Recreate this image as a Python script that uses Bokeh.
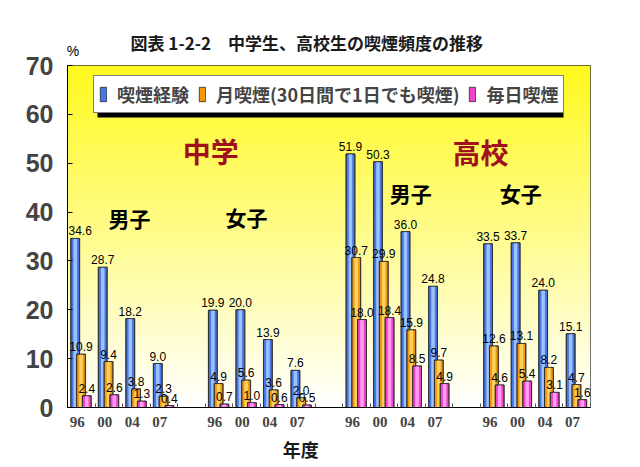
import numpy as np
from bokeh.plotting import figure
from bokeh.models import (Range1d, FixedTicker, Legend, LegendItem, Label, LinearAxis,
                          BoxAnnotation, ColumnDataSource, LabelSet)
from bokeh.core.properties import value
from bokeh.embed import file_html
from bokeh.resources import INLINE

# ---------------- data ----------------
title_text = "図表 1-2-2　中学生、高校生の喫煙頻度の推移"
unit_text = "%"
x_title = "年度"
years = ["96", "00", "04", "07"]
y_ticks = [0, 10, 20, 30, 40, 50, 60, 70]
series_names = ["喫煙経験", "月喫煙(30日間で1日でも喫煙)", "毎日喫煙"]

jh_boys_exp = [34.6, 28.7, 18.2, 9.0]
jh_boys_month = [10.9, 9.4, 3.8, 2.3]
jh_boys_daily = [2.4, 2.6, 1.3, 0.4]

jh_girls_exp = [19.9, 20.0, 13.9, 7.6]
jh_girls_month = [4.9, 5.6, 3.6, 2.0]
jh_girls_daily = [0.7, 1.0, 0.6, 0.5]

hs_boys_exp = [51.9, 50.3, 36.0, 24.8]
hs_boys_month = [30.7, 29.9, 15.9, 9.7]
hs_boys_daily = [18.0, 18.4, 8.5, 4.9]

hs_girls_exp = [33.5, 33.7, 24.0, 15.1]
hs_girls_month = [12.6, 13.1, 8.2, 4.7]
hs_girls_daily = [4.6, 5.4, 3.1, 1.6]

experience = jh_boys_exp + jh_girls_exp + hs_boys_exp + hs_girls_exp
monthly = jh_boys_month + jh_girls_month + hs_boys_month + hs_girls_month
daily = jh_boys_daily + jh_girls_daily + hs_boys_daily + hs_girls_daily

# ---------------- layout helpers ----------------
n_groups = 4
slots = [g * 5 + i for g in range(n_groups) for i in range(len(years))]
bounds = [b - 0.5 for b in range(0, 20)]
label_ticks = [s - 0.15 for s in slots]
overrides = {t: years[k % 4] for k, t in enumerate(label_ticks)}

CJK = "Noto Sans CJK JP"
SANS = "Liberation Sans"

p = figure(width=640, height=467, x_range=Range1d(-0.5, 18.5), y_range=Range1d(0, 70),
           output_backend="svg", toolbar_location=None,
           min_border_left=67, min_border_right=50, min_border_top=65, min_border_bottom=60)
p.background_fill_color = "white"
p.border_fill_color = "white"
p.outline_line_color = "#404040"
p.outline_line_width = 1
p.xgrid.visible = False
p.ygrid.visible = False

# gradient background (yellow -> white)
H = 200
t = np.linspace(0, 1, H)
img = np.zeros((H, 2), dtype=np.uint32)
view = img.view(dtype=np.uint8).reshape((H, 2, 4))
view[:, :, 0] = 255
view[:, :, 1] = np.clip(255 - 6 * t, 0, 255).astype(np.uint8)[:, None]
view[:, :, 2] = np.clip(255 - 225 * t, 0, 255).astype(np.uint8)[:, None]
view[:, :, 3] = 255
p.image_rgba(image=[img], x=-0.5, y=0, dw=19, dh=70)

# bars
specs = [
    (experience, "#4677E6", "#9DC0FF", -0.22),
    (monthly, "#F29A0C", "#FFD060", -0.01),
    (daily, "#EE44CC", "#FF9CF2", 0.20),
]
bar_w = 0.32
legend_renderers = []
sources = []
for k, (vals, base, hi, off) in enumerate(specs):
    nudge = [0] * len(vals)
    if k == 0:
        nudge[0] = 5  # keep the first value label clear of the y axis
    src = ColumnDataSource(dict(x=[s + off for s in slots], top=vals, dx=nudge,
                                label=[f"{v:.1f}" for v in vals]))
    sources.append(src)
    r = p.vbar(x="x", top="top", bottom=0, width=bar_w, source=src,
               fill_color=base, line_color="#2a2a2a", line_width=0.8)
    p.vbar(x="x", top="top", bottom=0, width=bar_w * 0.4, source=src,
           fill_color=hi, line_color=None)
    p.vbar(x="x", top="top", bottom=0, width=bar_w, source=src,
           fill_color=None, line_color="#2a2a2a", line_width=0.8)
    legend_renderers.append(r)

for src in sources:
    p.add_layout(LabelSet(x="x", y="top", text="label", source=src, x_offset="dx",
                          text_align="center", text_baseline="bottom", y_offset=3,
                          text_font=value(SANS), text_font_size="12px",
                          text_color="black"))

# x axis
p.xaxis.ticker = FixedTicker(ticks=label_ticks, minor_ticks=bounds)
p.xaxis.major_label_overrides = overrides
p.xaxis.major_tick_in = 0
p.xaxis.major_tick_out = 0
p.xaxis.minor_tick_in = 4
p.xaxis.minor_tick_out = 0
p.xaxis.minor_tick_line_color = "#555555"
p.xaxis.axis_line_color = "black"
p.xaxis.major_label_text_font = "Liberation Serif"
p.xaxis.major_label_text_font_style = "bold"
p.xaxis.major_label_text_font_size = "15px"
p.xaxis.major_label_standoff = 9

# x title as a second bottom axis
x_title_pos = 7.97
xt_axis = LinearAxis(ticker=FixedTicker(ticks=[x_title_pos], minor_ticks=[]),
                     major_label_overrides={x_title_pos: x_title},
                     axis_line_color=None, major_tick_line_color=None, minor_tick_line_color=None,
                     major_label_standoff=0, major_label_text_font=CJK,
                     major_label_text_font_style="bold", major_label_text_font_size="18px",
                     major_label_text_color="#1a1a1a")
p.add_layout(xt_axis, "below")

# y axis
p.yaxis.ticker = FixedTicker(ticks=y_ticks, minor_ticks=[])
p.yaxis.major_tick_in = 5
p.yaxis.major_tick_out = 0
p.yaxis.axis_line_color = "black"
p.yaxis.major_label_text_font = SANS
p.yaxis.major_label_text_font_style = "bold"
p.yaxis.major_label_text_font_size = "25px"
p.yaxis.major_label_standoff = 14

# "%" unit as a top axis
unit_pos = -0.3
unit_axis = LinearAxis(ticker=FixedTicker(ticks=[unit_pos], minor_ticks=[]),
                       major_label_overrides={unit_pos: unit_text},
                       axis_line_color=None, major_tick_line_color=None, minor_tick_line_color=None,
                       major_label_standoff=1, major_label_text_font=SANS,
                       major_label_text_font_size="14px", major_label_text_color="black")
p.add_layout(unit_axis, "above")

# title (outermost), pulled down next to the "%" unit
title_ok = True
try:
    p.title.standoff = -31
except Exception:
    title_ok = False
if title_ok:
    p.title.text = title_text
    p.title.text_font = CJK
    p.title.text_font_size = "17px"
    p.title.text_font_style = "bold"
    p.title.text_color = "#1a1a1a"
    p.title.align = "left"
    p.title.offset = 63
else:
    title_pos = 8.33
    title_axis = LinearAxis(ticker=FixedTicker(ticks=[title_pos], minor_ticks=[]),
                            major_label_overrides={title_pos: title_text},
                            axis_line_color=None, major_tick_line_color=None,
                            minor_tick_line_color=None,
                            major_label_standoff=0, major_label_text_font=CJK,
                            major_label_text_font_style="bold", major_label_text_font_size="17px",
                            major_label_text_color="#1a1a1a")
    p.add_layout(title_axis, "above")

# group labels
group_labels = [
    ("中学", 4.7, 52.4, "#A0101E", "28px"),
    ("高校", 14.5, 52.2, "#A0101E", "28px"),
    ("男子", 1.75, 38.7, "black", "21px"),
    ("女子", 6.0, 38.9, "black", "21px"),
    ("男子", 11.97, 44.0, "black", "21px"),
    ("女子", 15.97, 44.0, "black", "21px"),
]
for txt, gx, gy, col, fs in group_labels:
    p.add_layout(Label(x=gx, y=gy, text=txt, text_align="center", text_baseline="middle",
                       text_font=CJK, text_font_style="bold", text_font_size=fs,
                       text_color=col))

# legend shadow + legend
p.add_layout(BoxAnnotation(left=0.59, right=17.52, top=66.52, bottom=59.35,
                           fill_color="black", fill_alpha=1, line_color=None,
                           level="annotation"))
legend = Legend(items=[LegendItem(label=n, renderers=[r]) for n, r in zip(series_names, legend_renderers)],
                orientation="horizontal", location=(26, 294),
                label_text_font=CJK, label_text_font_style="bold", label_text_font_size="18px",
                glyph_width=8, glyph_height=18, label_standoff=10, spacing=9, label_height=25,
                padding=5, margin=0, border_line_color="black", border_line_width=1.5,
                background_fill_color="white", background_fill_alpha=1)
p.add_layout(legend, "center")

open("out.html", "w").write(file_html(p, INLINE))
